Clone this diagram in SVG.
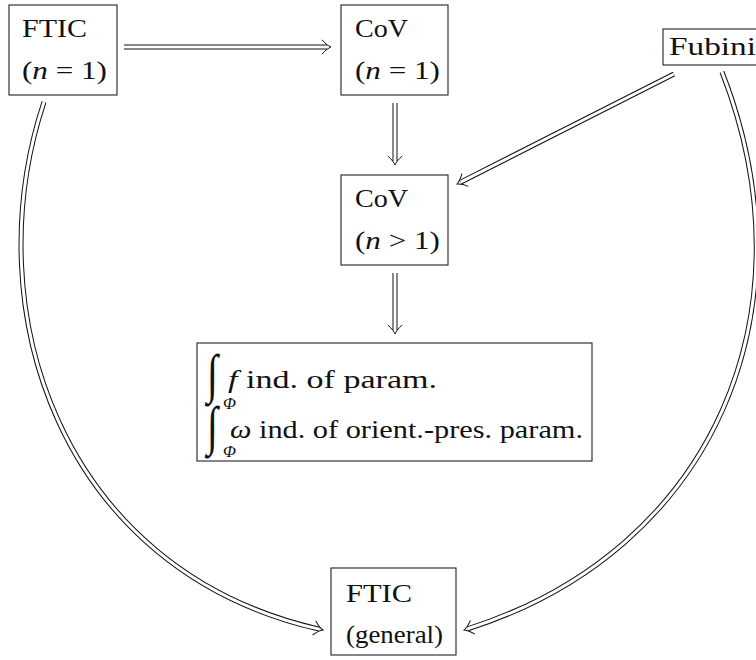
<svg xmlns="http://www.w3.org/2000/svg" width="756" height="660" viewBox="0 0 756 660">
<style>
.box{fill:#fff;stroke:#222;stroke-width:1.1}
.t{font-family:"Liberation Serif","DejaVu Serif",serif;font-size:26px;fill:#111}
.i{font-style:italic}
.int{font-family:"Liberation Serif","DejaVu Serif",serif;font-size:40px;fill:#111}
.sub{font-family:"Liberation Serif",serif;font-style:italic;font-size:17px;fill:#111}
.outer{fill:none;stroke:#111;stroke-width:5}
.inner{fill:none;stroke:#fff;stroke-width:3;marker-end:url(#imp)}
</style>
<defs>
<marker id="imp" markerUnits="userSpaceOnUse" orient="auto" refX="0" refY="0" markerWidth="20" markerHeight="20" overflow="visible">
<path d="M -5,-7.2 C -1.5,-3 2,-0.8 4,0 C 2,0.8 -1.5,3 -5,7.2" fill="none" stroke="#111" stroke-width="1"/>
</marker>
</defs>
<g id="connectors">
<path class="outer" d="M 124,47 L 327,47"/>
<path class="inner" d="M 124,47 L 327,47"/>
<path class="outer" d="M 395,103 L 395,161"/>
<path class="inner" d="M 395,103 L 395,161"/>
<path class="outer" d="M 674,74 L 460.6,182.2"/>
<path class="inner" d="M 674,74 L 460.6,182.2"/>
<path class="outer" d="M 395,273 L 395,330"/>
<path class="inner" d="M 395,273 L 395,330"/>
<path class="outer" d="M 44,102 C -25,310 60,570 319.1,629.1"/>
<path class="inner" d="M 44,102 C -25,310 60,570 319.1,629.1"/>
<path class="outer" d="M 722,72 C 815,310 715,550 467.8,628.8"/>
<path class="inner" d="M 722,72 C 815,310 715,550 467.8,628.8"/>
</g>
<g id="ftic1">
<rect class="box" x="9" y="5" width="108" height="90"/>
<text class="t" x="22" y="37" textLength="65" lengthAdjust="spacingAndGlyphs">FTIC</text>
<text class="t" x="22" y="79" textLength="85" lengthAdjust="spacingAndGlyphs">(<tspan class="i">n</tspan> = 1)</text>
</g>
<g id="cov1">
<rect class="box" x="341" y="5" width="107" height="90"/>
<text class="t" x="355" y="37" textLength="53" lengthAdjust="spacingAndGlyphs">CoV</text>
<text class="t" x="355" y="79" textLength="85" lengthAdjust="spacingAndGlyphs">(<tspan class="i">n</tspan> = 1)</text>
</g>
<g id="fubini">
<rect class="box" x="663" y="29" width="110" height="36"/>
<text class="t" x="669" y="55" textLength="87" lengthAdjust="spacingAndGlyphs">Fubini</text>
</g>
<g id="covn">
<rect class="box" x="341" y="175" width="107" height="90"/>
<text class="t" x="355" y="207" textLength="53" lengthAdjust="spacingAndGlyphs">CoV</text>
<text class="t" x="355" y="249" textLength="85" lengthAdjust="spacingAndGlyphs">(<tspan class="i">n</tspan> &gt; 1)</text>
</g>
<g id="integrals">
<rect class="box" x="197" y="343" width="395" height="118"/>
<text class="int" transform="translate(207,392) scale(1,1.35)" x="0" y="0">∫</text>
<text class="sub" x="223" y="409">Φ</text>
<text class="t" x="228" y="388" textLength="209" lengthAdjust="spacingAndGlyphs"><tspan class="i">f</tspan> ind. of param.</text>
<text class="int" transform="translate(207,444) scale(1,1.35)" x="0" y="0">∫</text>
<text class="sub" x="223" y="457">Φ</text>
<text class="t" x="230" y="438" textLength="353" lengthAdjust="spacingAndGlyphs"><tspan class="i">ω</tspan> ind. of orient.-pres. param.</text>
</g>
<g id="fticgen">
<rect class="box" x="331" y="568" width="125" height="87"/>
<text class="t" x="346" y="602" textLength="66" lengthAdjust="spacingAndGlyphs">FTIC</text>
<text class="t" x="346" y="643" textLength="97" lengthAdjust="spacingAndGlyphs">(general)</text>
</g>
</svg>
